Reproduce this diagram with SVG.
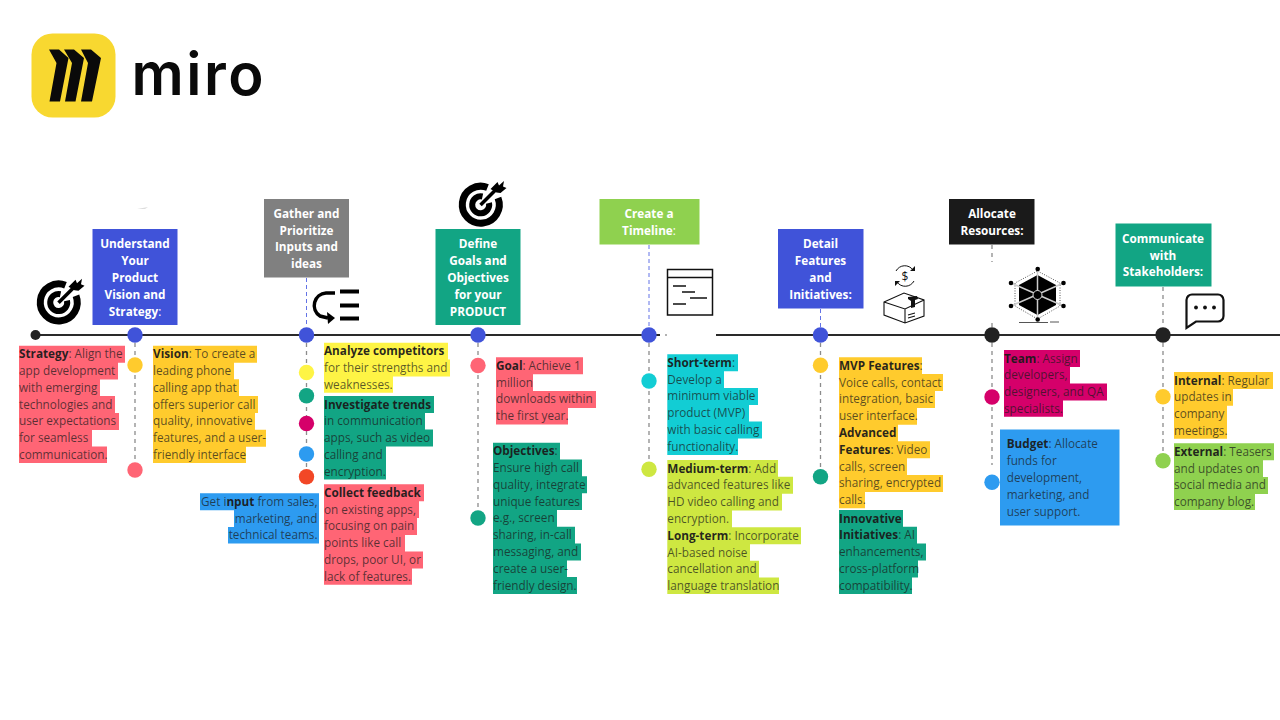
<svg xmlns="http://www.w3.org/2000/svg" width="1280" height="720" viewBox="0 0 1280 720">
<style>
text{font-family:"Open Sans","Noto Sans","Liberation Sans",sans-serif;font-size:11.75px}
.b{fill:#1a1a1a;fill-opacity:.72}
.b tspan,.bd{font-weight:700;fill-opacity:.95}
.h text{fill:#fff;font-weight:700;text-anchor:middle}
.h tspan{font-weight:400}
.e{text-anchor:end}
.bl{fill:#4053d9}.gy{fill:#808080}.gr{fill:#12a584}.lg{fill:#8fd14f}.bk{fill:#1a1a1a}
.or{fill:#ffcb2d}.pk{fill:#ff6575}.ye{fill:#fef445}.dp{fill:#d5006a}.bu{fill:#2d9bf0}.rd{fill:#f24726}.cy{fill:#12cdd4}.li{fill:#cee741}
.dg{stroke:#8c8c8c;stroke-width:1.300;stroke-dasharray:4 4;fill:none}
.db{stroke:#6373e6;stroke-width:1;stroke-dasharray:4 3;fill:none}
.ic{fill:none;stroke:#111;stroke-width:2}
</style>
<defs>
<g id="target">
<path d="M7 -17.500A18.500 18.500 0 1 0 17.500 -7" fill="none" stroke="#000" stroke-width="7"/>
<path d="M2 -8.500A8.500 8.500 0 1 0 8.500 -2" fill="none" stroke="#000" stroke-width="6"/>
<path d="M0 0L15 -15" stroke="#000" stroke-width="3.500"/>
<path d="M10 -16l7 -7l1.500 3.500l5 -4.500l-1 5.500l3.500 1.500l-6 5l-4 -0.500z" fill="#000"/>
</g>
</defs>
<rect width="1280" height="720" fill="#fff"/>

<g id="logo">
<rect x="31.500" y="33.500" width="84" height="84" rx="21" fill="#f8d830"/>
<path d="M49 49.500h10l9.500 8.500l-8.500 43.500h-10.500l7 -38.500z M64 49.500h10l10 8.500l-8.500 43.500h-10.500l7 -38.500z M81 49.500h10l10 8.500l-9 43.500h-11l7 -38.500z" fill="#0a0a0a"/>
<text x="131.500" y="95" textLength="132" lengthAdjust="spacing" style="font-family:Inter,sans-serif;font-size:58px;font-weight:600" fill="#0a0a0a">miro</text>
</g>

<g id="connectors">
<path d="M36 335H660M716 335H1280" stroke="#2a2a2a" stroke-width="2.200" fill="none"/>
<path d="M665 335h2" stroke="#999" stroke-width="1.500"/>
<path class="dg" d="M135 343V462M306.500 343V470M478 343V512M649 343V462M820.500 343V470M992 343V465M1163 343V452M992 245V262M992 323V328M1163 287V327"/>
<path class="db" d="M306.500 278V327M649 245V327M820.500 309V327"/>
</g>

<g id="marks">
<circle cx="35.500" cy="335" r="5" fill="#222"/>
<g class="bl"><circle cx="135" cy="335" r="7.700"/><circle cx="306.500" cy="335" r="7.700"/><circle cx="478" cy="335" r="7.700"/><circle cx="649" cy="335" r="7.700"/><circle cx="820.500" cy="335" r="7.700"/></g>
<g fill="#222"><circle cx="992" cy="335" r="7.700"/><circle cx="1163" cy="335" r="7.700"/></g>
<circle class="or" cx="135" cy="365" r="7.700"/><circle class="pk" cx="135" cy="470" r="7.700"/>
<circle class="ye" cx="306.500" cy="372.500" r="7.700"/><circle class="gr" cx="306.500" cy="395.700" r="7.700"/><circle class="dp" cx="306.500" cy="423.500" r="7.700"/><circle class="bu" cx="306.500" cy="454" r="7.700"/><circle class="rd" cx="306.500" cy="476.700" r="7.700"/>
<circle class="pk" cx="478" cy="365.500" r="7.700"/><circle class="gr" cx="478" cy="518" r="7.700"/>
<circle class="cy" cx="649" cy="381" r="7.700"/><circle class="li" cx="649" cy="469.300" r="7.700"/>
<circle class="or" cx="820.500" cy="365.300" r="7.700"/><circle class="gr" cx="820.500" cy="476.700" r="7.700"/>
<circle class="dp" cx="992" cy="397" r="7.700"/><circle class="bu" cx="992" cy="482.300" r="7.700"/>
<circle class="or" cx="1163" cy="396.700" r="7.700"/><circle class="lg" cx="1163" cy="460.700" r="7.700"/>
<path d="M137 209l11 -2l-3 2z" fill="#ddd"/>
</g>

<g id="icon-target-1"><use href="#target" x="58.500" y="302.700"/></g>
<g id="icon-target-2"><use href="#target" x="480.500" y="205"/></g>
<g id="icon-list">
<path d="M335 293H326A12.500 12.500 0 0 0 320 316L328 318" fill="none" stroke="#000" stroke-width="3.500"/>
<path d="M327 312l8 6l-7 6z" fill="#000"/>
<path d="M340 291.500h19M340 305.500h19M340 318.500h19" stroke="#000" stroke-width="3.800"/>
</g>
<g id="icon-timeline">
<rect class="ic" x="667.500" y="269.500" width="45" height="45.500" style="stroke-width:1.500"/>
<path class="ic" d="M667.500 277.500h45M673 286h13M682 292h13M690 298h17M673 304h13" style="stroke-width:1.500"/>
</g>
<g id="icon-box">
<path class="ic" style="stroke-width:1" d="M913 270A10 10 0 0 0 896 271M897 282A10 10 0 0 0 914 281"/>
<path d="M915 266v5h-5zM895 286v-5h5z" fill="#111"/>
<text x="905" y="280.500" text-anchor="middle" style="font-size:12px" fill="#111">$</text>
<path class="ic" style="stroke-width:1.100" d="M884 302L904 293L924 300V316L905 323L884 315ZM884 302L905 309L924 300M905 309V323M908 315l7 -2M908 318l7 -2"/>
<path d="M908 297l9 -1l1 3l-3 1v7l-4 1v-7l-3 -2z" fill="#111"/>
</g>
<g id="icon-hex">
<path d="M1037.500 271L1060 283V306L1037.500 319L1015 306V283Z" fill="none" stroke="#555" stroke-width="1" stroke-dasharray="1 1.500"/>
<path d="M1037.500 275L1056 285V305L1037.500 315L1019 305V285Z" fill="#000"/>
<path d="M1037.500 269V319.500M1011 283L1063.500 306M1063.500 283L1011 306" stroke="#ccc" stroke-width="1.500"/>
<circle cx="1037.500" cy="295" r="4.500" fill="#000" stroke="#ddd"/>
<g fill="#000"><circle cx="1037.700" cy="269" r="2.300"/><circle cx="1011" cy="283" r="2.300"/><circle cx="1063.500" cy="283" r="2.300"/><circle cx="1011" cy="306" r="2.300"/><circle cx="1063.500" cy="306" r="2.300"/><circle cx="1037.700" cy="319.500" r="2.300"/></g>
<path d="M1019 322.500h29M1050 322h9" stroke="#555" stroke-width="1"/>
</g>
<g id="icon-chat">
<path d="M1192 294.500H1218A5.500 5.500 0 0 1 1223.500 300V316A5.500 5.500 0 0 1 1218 321.500H1196L1186.500 328V300A5.500 5.500 0 0 1 1192 294.500Z" fill="none" stroke="#111" stroke-width="2.200"/>
<g fill="#111"><circle cx="1196" cy="307.500" r="1.900"/><circle cx="1205" cy="307.500" r="1.900"/><circle cx="1214" cy="307.500" r="1.900"/></g>
</g>

<g id="h-understand" class="h"><rect class="bl" x="92.500" y="229" width="85" height="96"/><text x="135" y="248.300">Understand</text><text x="135" y="265.100">Your</text><text x="135" y="281.900">Product</text><text x="135" y="298.700">Vision and</text><text x="135" y="315.500">Strategy<tspan>:</tspan></text></g>
<g id="h-gather" class="h"><rect class="gy" x="264" y="199" width="85" height="78.500"/><text x="306.500" y="217.700">Gather and</text><text x="306.500" y="234.500">Prioritize</text><text x="306.500" y="251.300">Inputs and</text><text x="306.500" y="268.100">ideas</text></g>
<g id="h-define" class="h"><rect class="gr" x="435.500" y="229" width="85" height="96"/><text x="478" y="248.300">Define</text><text x="478" y="265.100">Goals and</text><text x="478" y="281.900">Objectives</text><text x="478" y="298.700">for your</text><text x="478" y="315.500">PRODUCT</text></g>
<g id="h-create" class="h"><rect class="lg" x="599.500" y="199" width="100" height="45.500"/><text x="649" y="217.700">Create a</text><text x="649" y="234.500">Timeline<tspan>:</tspan></text></g>
<g id="h-detail" class="h"><rect class="bl" x="778" y="229" width="85.500" height="79.500"/><text x="820.500" y="248.300">Detail</text><text x="820.500" y="265.100">Features</text><text x="820.500" y="281.900">and</text><text x="820.500" y="298.700">Initiatives:</text></g>
<g id="h-allocate" class="h"><rect class="bk" x="949" y="199" width="85.500" height="45.500"/><text x="992" y="217.700">Allocate</text><text x="992" y="234.500">Resources:</text></g>
<g id="h-communicate" class="h"><rect class="gr" x="1115.500" y="223.500" width="96" height="63"/><text x="1163" y="242.700">Communicate</text><text x="1163" y="259.500">with</text><text x="1163" y="276.300">Stakeholders:</text></g>

<g id="n-strategy">
<path class="pk" d="M19 345.700h106v17h-106zM19 362.500h99v17h-99zM19 379.300h81v17h-81zM19 396.100h96v17h-96zM19 412.900h100v17h-100zM19 429.700h73v17h-73zM19 446.500h88v16.500h-88z"/>
<g class="b"><text x="19" y="358.200"><tspan>Strategy</tspan>: Align the</text><text x="19" y="375">app development</text><text x="19" y="391.800">with emerging</text><text x="19" y="408.600">technologies and</text><text x="19" y="425.400">user expectations</text><text x="19" y="442.200">for seamless</text><text x="19" y="459">communication.</text></g>
</g>
<g id="n-vision">
<path class="or" d="M153 345.700h104v17h-104zM153 362.500h81v17h-81zM153 379.300h86v17h-86zM153 396.100h105v17h-105zM153 412.900h102v17h-102zM153 429.700h113v17h-113zM153 446.500h93v16.500h-93z"/>
<g class="b"><text x="153" y="358.200"><tspan>Vision</tspan>: To create a</text><text x="153" y="375">leading phone</text><text x="153" y="391.800">calling app that</text><text x="153" y="408.600">offers superior call</text><text x="153" y="425.400">quality, innovative</text><text x="153" y="442.200">features, and a user-</text><text x="153" y="459">friendly interface</text></g>
</g>
<g id="n-analyze">
<path class="ye" d="M324 342.700h124v17h-124zM324 359.500h126v17h-126zM324 376.300h69v16.500h-69z"/>
<g class="b"><text x="324" y="355.200"><tspan>Analyze competitors</tspan></text><text x="324" y="372">for their strengths and</text><text x="324" y="388.800">weaknesses.</text></g>
</g>
<g id="n-investigate">
<path class="gr" d="M324 396h110v17h-110zM324 412.800h101v17h-101zM324 429.600h109v17h-109zM324 446.400h62v17h-62zM324 463.200h62v16.300h-62z"/>
<g class="b"><text x="324" y="408.500"><tspan>Investigate trends</tspan></text><text x="324" y="425.300">in communication</text><text x="324" y="442.100">apps, such as video</text><text x="324" y="458.900">calling and</text><text x="324" y="475.700">encryption.</text></g>
</g>
<g id="n-collect">
<path class="pk" d="M324 484.300h100v17h-100zM324 501.100h95v17h-95zM324 517.900h93v17h-93zM324 534.700h81v17h-81zM324 551.500h99v17h-99zM324 568.300h88v16.500h-88z"/>
<g class="b"><text x="324" y="496.800"><tspan>Collect feedback</tspan></text><text x="324" y="513.600">on existing apps,</text><text x="324" y="530.400">focusing on pain</text><text x="324" y="547.200">points like call</text><text x="324" y="564">drops, poor UI, or</text><text x="324" y="580.800">lack of features.</text></g>
</g>
<g id="n-input">
<path class="bu" d="M200 493.300h119v17h-119zM234 510.100h85v17h-85zM228 526.900h91v16.500h-91z"/>
<g class="b"><text class="e" x="317.500" y="505.800">Get i<tspan>nput</tspan> from sales,</text><text class="e" x="317.500" y="522.600">marketing, and</text><text class="e" x="317.500" y="539.400">technical teams.</text></g>
</g>
<g id="n-goal">
<path class="pk" d="M496 357.300h87v17h-87zM496 374.100h37v17h-37zM496 390.900h100v17h-100zM496 407.700h72v16.700h-72z"/>
<g class="b"><text x="496" y="369.800"><tspan>Goal</tspan>: Achieve 1</text><text x="496" y="386.600">million</text><text x="496" y="403.400">downloads within</text><text x="496" y="420.200">the first year.</text></g>
</g>
<g id="n-objectives">
<path class="gr" d="M493 442.700h67v17h-67zM493 459.500h89v17h-89zM493 476.300h94v17h-94zM493 493.100h89v17h-89zM493 509.900h64v17h-64zM493 526.700h82v17h-82zM493 543.500h88v17h-88zM493 560.300h74v17h-74zM493 577.100h84v17h-84z"/>
<g class="b"><text x="493" y="455.200"><tspan>Objectives</tspan>:</text><text x="493" y="472">Ensure high call</text><text x="493" y="488.800">quality, integrate</text><text x="493" y="505.600">unique features</text><text x="493" y="522.400">e.g., screen</text><text x="493" y="539.200">sharing, in-call</text><text x="493" y="556">messaging, and</text><text x="493" y="572.800">create a user-</text><text x="493" y="589.600">friendly design.</text></g>
</g>
<g id="n-short">
<path class="cy" d="M667.300 354.300h70.700v17h-70.700zM667.300 371.100h56.700v17h-56.700zM667.300 387.900h90.700v17h-90.700zM667.300 404.700h81.700v17h-81.700zM667.300 421.500h94.700v17h-94.700zM667.300 438.300h70.700v16.700h-70.700z"/>
<g class="b"><text x="667.300" y="366.800"><tspan>Short-term</tspan>:</text><text x="667.300" y="383.600">Develop a</text><text x="667.300" y="400.400">minimum viable</text><text x="667.300" y="417.200">product (MVP)</text><text x="667.300" y="434">with basic calling</text><text x="667.300" y="450.800">functionality.</text></g>
</g>
<g id="n-medium">
<path class="li" d="M667.300 460h110.700v17h-110.700zM667.300 476.800h125.700v17h-125.700zM667.300 493.600h114.700v17h-114.700zM667.300 510.400h64.700v17h-64.700zM667.300 527.200h133.700v17h-133.700zM667.300 544h82.700v17h-82.700zM667.300 560.800h91.700v17h-91.700zM667.300 577.600h111.700v16.400h-111.700z"/>
<g class="b"><text x="667.300" y="472.500"><tspan>Medium-term</tspan>: Add</text><text x="667.300" y="489.300">advanced features like</text><text x="667.300" y="506.100">HD video calling and</text><text x="667.300" y="522.900">encryption.</text><text x="667.300" y="539.700"><tspan>Long-term</tspan>: Incorporate</text><text x="667.300" y="556.500">AI-based noise</text><text x="667.300" y="573.300">cancellation and</text><text x="667.300" y="590.100">language translation</text></g>
</g>
<g id="n-mvp">
<path class="or" d="M839 357.300h83v17h-83zM839 374.100h104v17h-104zM839 390.900h96v17h-96zM839 407.700h78v17h-78zM839 424.500h59v17h-59zM839 441.300h91v17h-91zM839 458.100h68v17h-68zM839 474.900h104v17h-104zM839 491.700h26v16.600h-26z"/>
<g class="b"><text x="839" y="369.800"><tspan>MVP Features</tspan>:</text><text x="839" y="386.600">Voice calls, contact</text><text x="839" y="403.400">integration, basic</text><text x="839" y="420.200">user interface.</text><text x="839" y="437"><tspan>Advanced</tspan></text><text x="839" y="453.800"><tspan>Features</tspan>: Video</text><text x="839" y="470.600">calls, screen</text><text x="839" y="487.400">sharing, encrypted</text><text x="839" y="504.200">calls.</text></g>
</g>
<g id="n-innovative">
<path class="gr" d="M839 510h64v17h-64zM839 526.800h78v17h-78zM839 543.600h87v17h-87zM839 560.400h79v17h-79zM839 577.200h73v16.800h-73z"/>
<g class="b"><text x="839" y="522.500"><tspan>Innovative</tspan></text><text x="839" y="539.300"><tspan>Initiatives</tspan>: AI</text><text x="839" y="556.100">enhancements,</text><text x="839" y="572.900">cross-platform</text><text x="839" y="589.700">compatibility.</text></g>
</g>
<g id="n-team">
<path class="dp" d="M1004 350h76v17h-76zM1004 366.800h66v17h-66zM1004 383.600h103v17h-103zM1004 400.400h59v16.300h-59z"/>
<g class="b"><text x="1004" y="362.500"><tspan>Team</tspan>: Assign</text><text x="1004" y="379.300">developers,</text><text x="1004" y="396.100">designers, and QA</text><text x="1004" y="412.900">specialists.</text></g>
</g>
<g id="n-budget">
<rect class="bu" x="1000" y="429.500" width="119.500" height="96"/>
<g class="b"><text x="1006.700" y="448.300"><tspan>Budget</tspan>: Allocate</text><text x="1006.700" y="465.100">funds for</text><text x="1006.700" y="481.900">development,</text><text x="1006.700" y="498.700">marketing, and</text><text x="1006.700" y="515.500">user support.</text></g>
</g>
<g id="n-internal">
<path class="or" d="M1174 372h99v17h-99zM1174 388.800h59v17h-59zM1174 405.600h53v17h-53zM1174 422.400h53v16.300h-53z"/>
<g class="b"><text x="1174" y="384.500"><tspan>Internal</tspan>: Regular</text><text x="1174" y="401.300">updates in</text><text x="1174" y="418.100">company</text><text x="1174" y="434.900">meetings.</text></g>
</g>
<g id="n-external">
<path class="lg" d="M1174 443.300h100v17h-100zM1174 460.100h89v17h-89zM1174 476.900h94v17h-94zM1174 493.700h81v16.300h-81z"/>
<g class="b"><text x="1174" y="455.800"><tspan>External</tspan>: Teasers</text><text x="1174" y="472.600">and updates on</text><text x="1174" y="489.400">social media and</text><text x="1174" y="506.200">company blog.</text></g>
</g>
</svg>
